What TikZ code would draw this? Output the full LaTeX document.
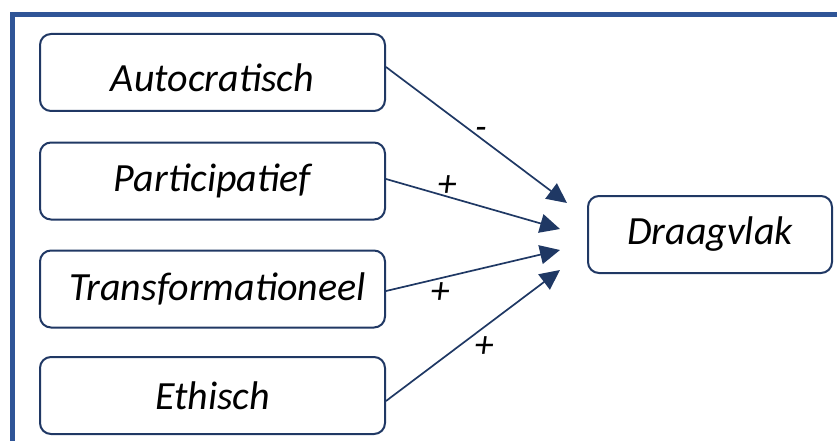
\documentclass[tikz,border=0pt]{standalone}
\usepackage{fontspec}
\setmainfont{Carlito}
\usetikzlibrary{arrows.meta}
\definecolor{framecol}{HTML}{2F5597}
\definecolor{boxcol}{HTML}{203864}
\definecolor{arrcol}{HTML}{1F3864}
\begin{document}
\begin{tikzpicture}[x=1pt,y=-1pt,
  box/.style={draw=boxcol,line width=2pt,rounded corners=11pt,fill=white,
    minimum height=77pt,inner sep=0pt,font=\fontsize{40}{46}\selectfont\itshape},
  lbox/.style={box,minimum width=345pt},
  txt/.style={inner sep=0pt,font=\fontsize{40}{46}\selectfont\itshape},
  conn/.style={draw=arrcol,line width=1.7pt,-{Triangle[length=20pt,width=19pt]}},
  sign/.style={font=\fontsize{38}{44}\selectfont\itshape,inner sep=0pt}]
\useasboundingbox (0,0) rectangle (837,441);
\draw[framecol,line width=5pt] (12.5,445) -- (12.5,14.5) -- (842,14.5);
\node[lbox] (a) at (212.5,72.5) {};
\node[txt] (atext) at ([yshift=-5pt]a.center) {Autocratisch};
\node[lbox] (p) at (212.5,181) {Participatief};
\node[lbox] (t) at (212.5,289) {\hspace*{10pt}Transformationeel};
\node[lbox] (e) at (212.5,395.5) {Ethisch};
\node[box,minimum width=244pt] (d) at (710,234.5) {Draagvlak};
\coordinate (ta) at (567,203);
\coordinate (tp) at (560,229);
\coordinate (tt) at (560,250);
\coordinate (te) at (560,270);
\draw[conn] ([yshift=5.5pt]a.east) -- (ta);
\draw[conn] ([yshift=2pt]p.east) -- (tp);
\draw[conn] ([yshift=-2pt]t.east) -- (tt);
\draw[conn] ([yshift=-5.5pt]e.east) -- (te);
\node[sign] (sa) at (481,133) {-};
\node[sign] (sp) at (447,186) {+};
\node[sign] (st) at (440,293) {+};
\node[sign] (se) at (484,347) {+};
\end{tikzpicture}
\end{document}
